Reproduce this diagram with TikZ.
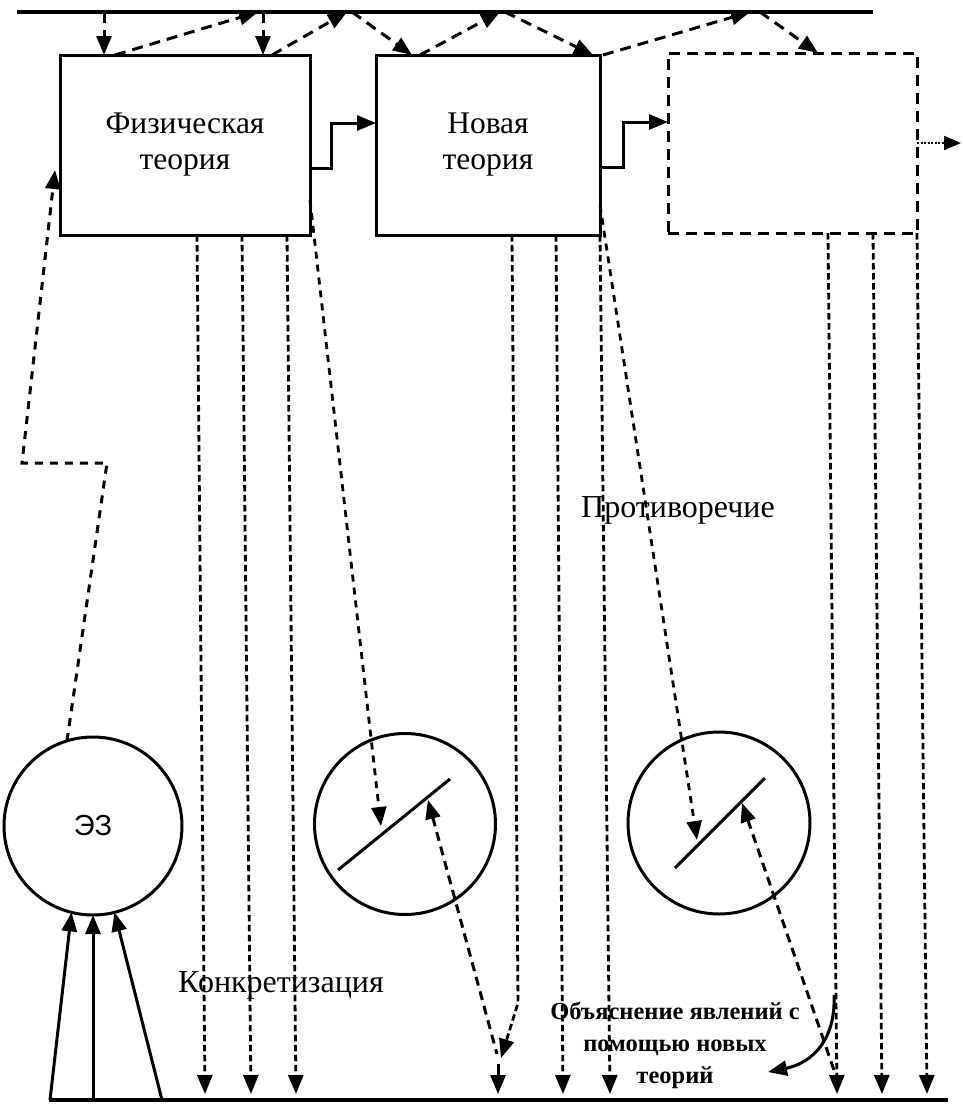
\documentclass[tikz,border=0pt]{standalone}
\usepackage{fontspec}
\setmainfont{Liberation Serif}
\newfontfamily\sansfam{Liberation Sans}
\usetikzlibrary{arrows.meta,calc}
\begin{document}
\begin{tikzpicture}[x=1pt,y=-1pt,
  lw/.style={line width=3pt},
  tip/.style={-{Triangle[length=19pt,width=15pt]}},
  rtip/.style={{Triangle[length=19pt,width=15pt]}-},
  dsh/.style={lw, dash pattern=on 11pt off 7pt},
  dense/.style={line width=2.8pt, dash pattern=on 6.5pt off 3.5pt},
  dotl/.style={line width=2pt, dash pattern=on 2pt off 1.5pt},
  boxnode/.style={draw, lw, inner sep=0pt, outer sep=0pt, align=center,
    font=\fontsize{31.5}{36}\selectfont},
  circnode/.style={circle, draw, lw, inner sep=0pt, outer sep=0pt},
  lbl/.style={font=\fontsize{32}{36}\selectfont},
  blbl/.style={font=\bfseries\fontsize{24.5}{32}\selectfont, align=center}
]
\useasboundingbox (0,0) rectangle (962,1104);

% boxes
\node[boxnode, minimum width=250pt, minimum height=180pt] (b1) at (185,145) {Физическая\\теория};
\node[boxnode, minimum width=224pt, minimum height=180pt] (b2) at (488,145) {Новая\\теория};
\node[boxnode, dash pattern=on 11pt off 7pt, minimum width=249pt, minimum height=180pt] (b3) at (792.5,143) {};

% circles
\node[circnode, minimum size=178pt, font=\sansfam\fontsize{29}{32}\selectfont] (c1) at (93,826) {ЭЗ};
\node[circnode, minimum size=181pt] (c2) at (405,824) {};
\node[circnode, minimum size=182pt] (c3) at (719,823) {};

% diagonals in circles
\coordinate (d2a) at (338,870); \coordinate (d2b) at (450,779);
\coordinate (d3a) at (675,868); \coordinate (d3b) at (765,778);
\draw[lw] (d2a) -- (d2b);
\draw[lw] (d3a) -- (d3b);

% top and bottom lines
\coordinate (TL) at (17,12); \coordinate (TR) at (873,12);
\draw[line width=3.2pt] (TL) -- (TR);
\coordinate (BL) at (49,1100); \coordinate (BR) at (948,1100);
\draw[line width=3.2pt] (BL) -- (BR);

% top zigzag arrows
\coordinate (u1) at (104,12); \coordinate (u2) at (258,12);
\coordinate (u3) at (263,12); \coordinate (u4) at (347,12);
\coordinate (u5) at (352,12); \coordinate (u6) at (500,12);
\coordinate (u7) at (505,12); \coordinate (u8) at (750,12);
\coordinate (u9) at (760,12);
\draw[dsh,tip] (u1) -- (u1 |- b1.north);
\draw[dsh,tip] ([xshift=55pt]b1.north west) -- (u2);
\draw[dsh,tip] (u3) -- (u3 |- b1.north);
\draw[dsh,tip] ([xshift=212pt]b1.north west) -- (u4);
\draw[dsh,tip] (u5) -- ([xshift=36pt]b2.north west);
\draw[dsh,tip] ([xshift=44pt]b2.north west) -- (u6);
\draw[dsh,tip] (u7) -- ([xshift=217pt]b2.north west);
\draw[dsh,tip] ([xshift=3pt]b2.north east) -- (u8);
\draw[dsh,tip] (u9) -- ([xshift=150pt]b3.north west);

% solid arrows between boxes
\draw[lw,tip] ([yshift=-23pt]b1.east) -- ++(21,0) |- ([yshift=22pt]b2.west);
\draw[lw,tip] ([yshift=-22pt]b2.east) -- ++(23,0) |- ([yshift=21pt]b3.west);
\coordinate (out) at (961,143);
\draw[dotl,-{Triangle[length=17pt,width=14pt]}] (b3.east) -- (out);

% verticals from box 1
\coordinate (e1) at (205,1094); \coordinate (e2) at (251,1094); \coordinate (e3) at (296,1094);
\draw[dense,tip] ([xshift=137pt]b1.south west) -- (e1);
\draw[dense,tip] ([xshift=182pt]b1.south west) -- (e2);
\draw[dense,tip] ([xshift=227pt]b1.south west) -- (e3);
% diagonal from box 1 into circle 2
\coordinate (k2) at (381,826);
\draw[dsh,tip,dash pattern=on 7pt off 6pt,line width=2.8pt] ([yshift=-55pt]b1.east) -- (k2);

% verticals from box 2
\coordinate (v1) at (518,1003); \coordinate (v2) at (501,1058);
\coordinate (e5) at (563,1094); \coordinate (e6) at (610,1094);
\draw[dense,tip] ([xshift=136pt]b2.south west) -- (v1) -- (v2);
\draw[dense,tip] ([xshift=180pt]b2.south west) -- (e5);
\draw[dense,tip] (b2.south east) -- (e6);
\coordinate (k3) at (697,840);
\draw[dsh,tip,dash pattern=on 7pt off 6pt,line width=2.8pt] ([yshift=-60pt]b2.east) -- (k3);

% double line circle 2
\coordinate (m2top) at (428,800); \coordinate (m2bot) at (497,1054);
\draw[dsh,rtip,dash pattern=on 9pt off 6pt] (m2top) -- (m2bot);
\coordinate (s1) at (498,1064); \coordinate (e4) at (498,1094);
\draw[lw,tip] (s1) -- (e4);

% verticals from box 3
\coordinate (e7) at (837,1094); \coordinate (e8) at (882,1094); \coordinate (e9) at (927,1094);
\draw[dense,tip] ([xshift=160pt]b3.south west) -- (e7);
\draw[dense,tip] ([xshift=205pt]b3.south west) -- (e8);
\draw[dense,tip] (b3.south east) -- (e9);
% double line circle 3
\coordinate (m3top) at (742,803); \coordinate (m3bot) at (836,1076);
\draw[dsh,rtip,dash pattern=on 9pt off 6pt] (m3top) -- (m3bot);

% curved arrow
\coordinate (ca) at (834,995); \coordinate (cb) at (768,1072);
\draw[lw,tip] (ca) .. controls (836,1040) and (812,1063) .. (cb);

% solid arrows into EZ circle
\coordinate (f1) at (50,1100); \coordinate (f2) at (93,1100); \coordinate (f3) at (162,1100);
\draw[lw,tip] (f1) -- (c1.-104);
\draw[lw,tip] (f2) -- (c1.south);
\draw[lw,tip] (f3) -- (c1.-76);

% path from EZ to box 1
\coordinate (g1) at (107,463); \coordinate (g2) at (22,463);
\draw[dsh,tip,dash pattern=on 8pt off 7pt] (c1.107) -- (g1) -- (g2) -- ([xshift=-5pt,yshift=-25pt]b1.west);

% labels
\node[lbl] (t1) at (678,510) {Противоречие};
\node[lbl] (t2) at (281,985) {Конкретизация};
\node[blbl] (t3) at (675,1045) {Объяснение явлений с\\помощью новых\\теорий};
\end{tikzpicture}
\end{document}
